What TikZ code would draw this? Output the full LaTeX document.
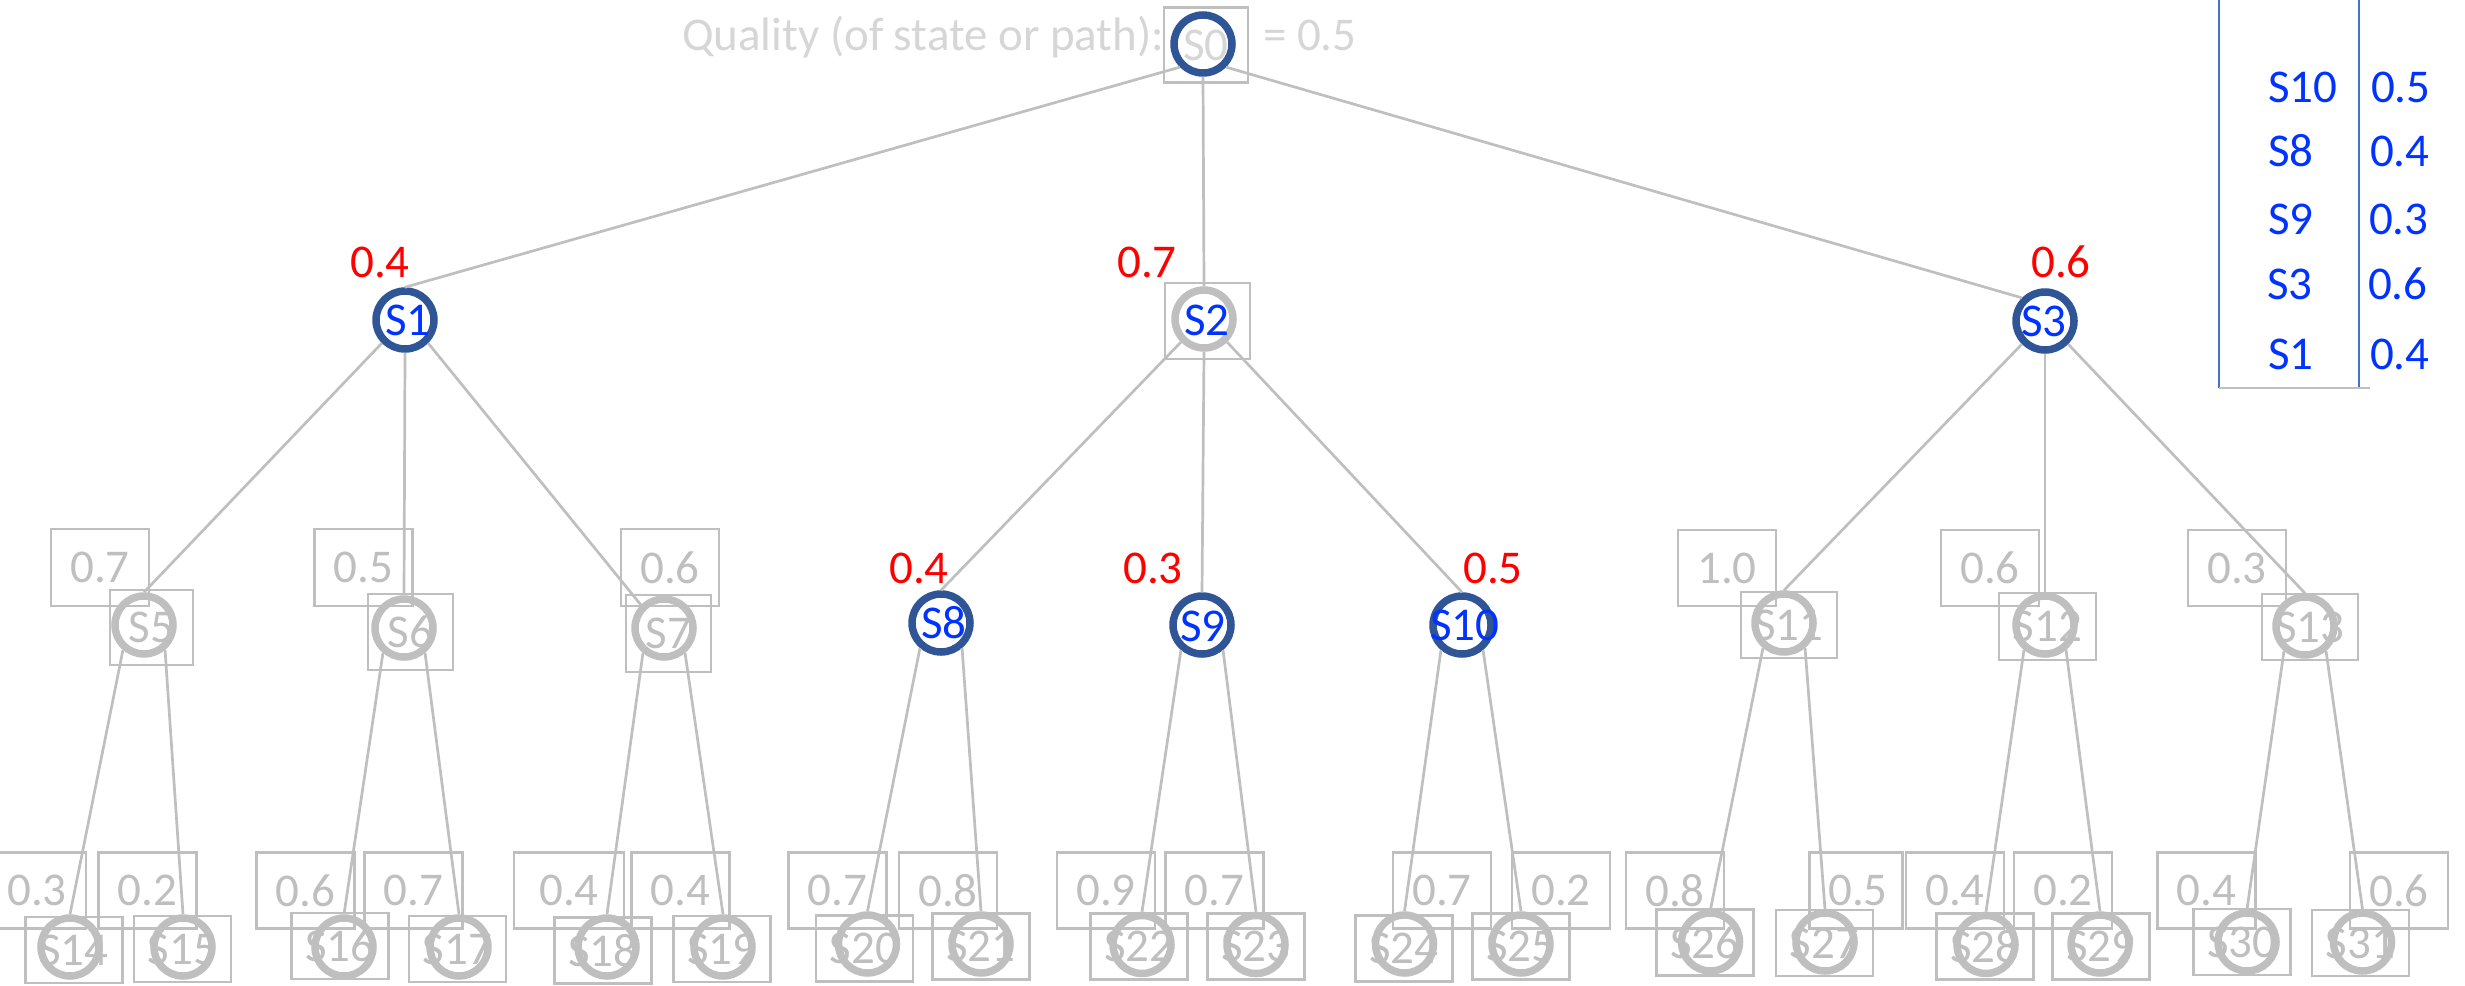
\documentclass[tikz,border=0pt]{standalone}
\usepackage{fontspec}
\setmainfont{Carlito}
\definecolor{boxgray}{HTML}{BFBFBF}
\definecolor{faintgray}{HTML}{D6D6D6}
\definecolor{ringblue}{HTML}{2F5597}
\definecolor{nameblue}{RGB}{0,51,255}
\definecolor{legblue}{HTML}{4472C4}
\definecolor{qred}{HTML}{FF0000}
\begin{document}
\begin{tikzpicture}[x=1pt,y=-1pt,
  every node/.style={font=\fontsize{47}{56}\selectfont, inner sep=0pt, outer sep=0pt},
  ring/.style={circle, draw=boxgray, line width=7.5pt, minimum size=58pt, outer sep=3.75pt, text=boxgray},
  hot/.style={ring, draw=ringblue},
  nbox/.style 2 args={rectangle, draw=boxgray, line width=2.7pt, minimum width=#1, minimum height=#2, text=boxgray},
  leafbox/.style={nbox={97pt}{66pt}},
  qbox/.style={nbox={98pt}{76pt}},
  qred/.style={text=qred},
  edge/.style={draw=boxgray, line width=2.7pt},
  legline/.style={draw=legblue, line width=2.2pt},
  legtext/.style={text=nameblue, anchor=west},
  stname/.style={text=nameblue}
]
\useasboundingbox (0,0) rectangle (2465,985);

% ---------- root ----------
\node[anchor=base west, text=faintgray] (qtitle) at (682,50) {Quality (of state or path):};
\node[anchor=base west, text=faintgray] (qvalue) at (1263,50) {= 0.5};
\node[nbox={84pt}{75pt}, text=faintgray] (b0) at (1206,45) {S0};
\node[hot] (S0) at (1203,44) {};

% ---------- level 1 ----------
\node[hot] (S1) at (405,320) {};
\node[stname] (t1) at (408,320) {S1};
\node[nbox={85pt}{76pt}] (b2) at (1207.5,321) {};
\node[ring] (S2) at (1204,319) {};
\node[stname] (t2) at (1207,320) {S2};
\node[hot] (S3) at (2045,321) {};
\node[stname] (t3) at (2044,321) {S3};
\node[qred] (q1) at (380,262) {0.4};
\node[qred] (q2) at (1147,262) {0.7};
\node[qred] (q3) at (2061,262) {0.6};

% ---------- level 2 ----------
\node[nbox={83pt}{75pt}] (b5) at (151.5,627.5) {S5};
\node[ring] (S5) at (144,625) {};
\node[nbox={85pt}{76pt}] (b6) at (410.5,632) {S6};
\node[ring] (S6) at (404,628) {};
\node[nbox={85pt}{77pt}] (b7) at (668.5,633.5) {S7};
\node[ring] (S7) at (664,628) {};
\node[nbox={98pt}{77pt}] (q5) at (100,567.5) {0.7};
\node[nbox={98pt}{77pt}] (q6) at (363.5,567.5) {0.5};
\node[nbox={98pt}{77pt}] (q7) at (670,567.5) {0.6};

\node[hot] (S8) at (941,623) {};
\node[stname] (t8) at (944,623) {S8};
\node[hot] (S9) at (1202,625) {};
\node[stname] (t9) at (1203,626) {S9};
\node[hot] (S10) at (1462,625) {};
\node[stname] (t10) at (1465,625) {S10};
\node[qred] (q8) at (919,568) {0.4};
\node[qred] (q9) at (1153,568) {0.3};
\node[qred] (q10) at (1493,568) {0.5};

\node[nbox={96pt}{66pt}] (b11) at (1789,625) {S11};
\node[ring] (S11) at (1784,623) {};
\node[nbox={97pt}{67pt}] (b12) at (2047.5,626.5) {S12};
\node[ring] (S12) at (2045,625) {};
\node[nbox={96pt}{66pt}] (b13) at (2310,627) {S13};
\node[ring] (S13) at (2305,626) {};
\node[nbox={98pt}{76pt}] (q11) at (1727,568) {1.0};
\node[nbox={98pt}{76pt}] (q12) at (1990,568) {0.6};
\node[nbox={98pt}{76pt}] (q13) at (2237,568) {0.3};

% ---------- level 3: value boxes ----------
\node[qbox] (q14) at (37,890.5) {0.3};
\node[qbox] (q15) at (147.5,890.5) {0.2};
\node[qbox] (q16) at (305.5,890.5) {0.6};
\node[qbox] (q17) at (413.5,890.5) {0.7};
\node[qbox, minimum width=110pt] (q18) at (569,890.5) {0.4\hspace{13pt}};
\node[qbox] (q19) at (680.5,890.5) {0.4};
\node[qbox] (q20) at (837.5,890.5) {0.7};
\node[qbox] (q21) at (948,890.5) {0.8};
\node[qbox] (q22) at (1106,890.5) {0.9};
\node[qbox] (q23) at (1214.5,890.5) {0.7};
\node[qbox] (q24) at (1442,890.5) {0.7};
\node[qbox] (q25) at (1561,890.5) {0.2};
\node[qbox] (q26) at (1675,890.5) {0.8};
\node[qbox, minimum width=93pt] (q27) at (1856,890.5) {\hspace{4pt}0.5};
\node[qbox] (q28) at (1955,890.5) {0.4};
\node[qbox] (q29) at (2063,890.5) {0.2};
\node[qbox] (q30) at (2206.5,890.5) {0.4};
\node[qbox] (q31) at (2399,890.5) {0.6};

% ---------- level 3: states ----------
\node[leafbox] (b14) at (74,950) {S14};
\node[ring] (S14) at (70,947) {};
\node[leafbox] (b15) at (182.5,949) {S15};
\node[ring] (S15) at (183,947) {};
\node[leafbox] (b16) at (340,946) {S16};
\node[ring] (S16) at (344,947) {};
\node[leafbox] (b17) at (457.5,949) {S17};
\node[ring] (S17) at (459,947) {};
\node[leafbox] (b18) at (603,950.5) {S18};
\node[ring] (S18) at (607,947) {};
\node[leafbox] (b19) at (722,949) {S19};
\node[ring] (S19) at (723,947) {};
\node[leafbox] (b20) at (864.5,948.5) {S20};
\node[ring] (S20) at (867.5,944) {};
\node[leafbox] (b21) at (981,946.5) {S21};
\node[ring] (S21) at (981,944) {};
\node[leafbox] (b22) at (1139,946.5) {S22};
\node[ring] (S22) at (1142,944.5) {};
\node[leafbox] (b23) at (1256,946.5) {S23};
\node[ring] (S23) at (1256,944.5) {};
\node[leafbox] (b24) at (1404,948.5) {S24};
\node[ring] (S24) at (1404.5,944) {};
\node[leafbox] (b25) at (1521,946.5) {S25};
\node[ring] (S25) at (1521,944) {};
\node[leafbox] (b26) at (1705,942.5) {S26};
\node[ring] (S26) at (1710.5,942) {};
\node[leafbox] (b27) at (1824.5,943) {S27};
\node[ring] (S27) at (1825,942) {};
\node[leafbox] (b28) at (1985,946.5) {S28};
\node[ring] (S28) at (1986,944.5) {};
\node[leafbox] (b29) at (2101,946.5) {S29};
\node[ring] (S29) at (2100,944) {};
\node[leafbox] (b30) at (2242,942) {S30};
\node[ring] (S30) at (2247,942) {};
\node[leafbox] (b31) at (2360.5,943) {S31};
\node[ring] (S31) at (2362.5,942) {};

% ---------- tree edges ----------
\draw[edge] (S0.225) -- (S1.north);
\draw[edge] (S0.south) -- (S2.north);
\draw[edge] (S0.315) -- (S3.135);

\draw[edge] (S1.225) -- (S5.north);
\draw[edge] (S1.south) -- (S6.north);
\draw[edge] (S1.315) -- (S7.135);
\draw[edge] (S2.225) -- (S8.north);
\draw[edge] (S2.south) -- (S9.north);
\draw[edge] (S2.315) -- (S10.north);
\draw[edge] (S3.225) -- (S11.north);
\draw[edge] (S3.south) -- (S12.north);
\draw[edge] (S3.315) -- (S13.north);

\draw[edge] (S5.230) -- (S14.north);   \draw[edge] (S5.310) -- (S15.north);
\draw[edge] (S6.230) -- (S16.north);   \draw[edge] (S6.310) -- (S17.north);
\draw[edge] (S7.230) -- (S18.north);   \draw[edge] (S7.310) -- (S19.north);
\draw[edge] (S8.230) -- (S20.north);   \draw[edge] (S8.310) -- (S21.north);
\draw[edge] (S9.230) -- (S22.north);   \draw[edge] (S9.310) -- (S23.north);
\draw[edge] (S10.230) -- (S24.north);  \draw[edge] (S10.310) -- (S25.north);
\draw[edge] (S11.230) -- (S26.north);  \draw[edge] (S11.310) -- (S27.north);
\draw[edge] (S12.230) -- (S28.north);  \draw[edge] (S12.310) -- (S29.north);
\draw[edge] (S13.230) -- (S30.north);  \draw[edge] (S13.310) -- (S31.north);

% ---------- ranking table ----------
\coordinate (tabTL) at (2219,0);
\coordinate (tabBL) at (2219,388);
\coordinate (tabTR) at (2359,0);
\coordinate (tabBR) at (2359,388);
\coordinate (tabBE) at (2370,388);
\draw[legline] (tabTL) -- (tabBL);
\draw[legline] (tabTR) -- (tabBR);
\draw[draw=boxgray, line width=2.2pt] (tabBL) -- (tabBE);

\node[legtext] (r1n) at (2268,87) {S10};  \node[legtext] (r1v) at (2371,87) {0.5};
\node[legtext] (r2n) at (2268,151) {S8};  \node[legtext] (r2v) at (2370,151) {0.4};
\node[legtext] (r3n) at (2268,219) {S9};  \node[legtext] (r3v) at (2369,219) {0.3};
\node[legtext] (r4n) at (2267,284) {S3};  \node[legtext] (r4v) at (2368,284) {0.6};
\node[legtext] (r5n) at (2268,354) {S1};  \node[legtext] (r5v) at (2370,354) {0.4};
\end{tikzpicture}
\end{document}
